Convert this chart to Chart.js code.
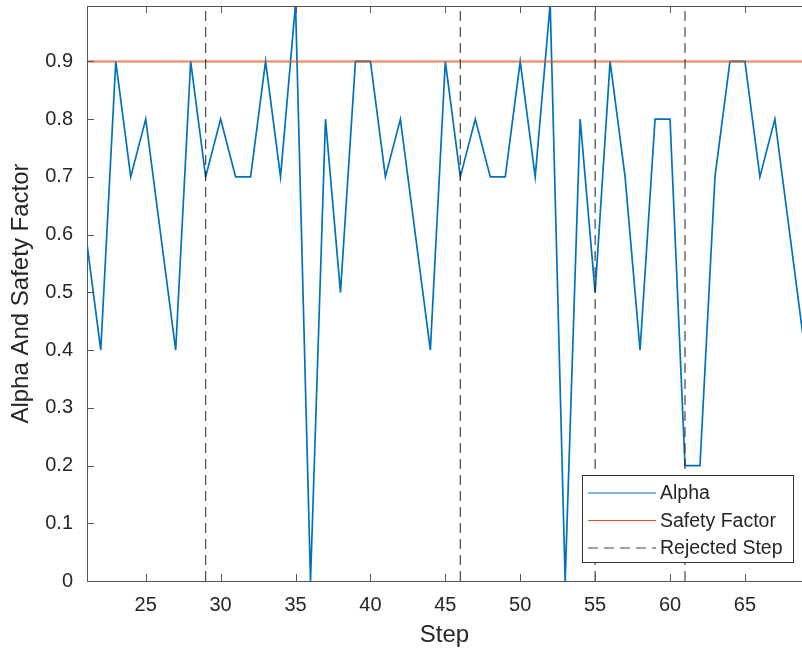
<!DOCTYPE html>
<html>
<head>
<meta charset="utf-8">
<script src="https://cdn.jsdelivr.net/npm/chart.js@4.4.0/dist/chart.umd.min.js"></script>
<style>
  html, body { margin: 0; padding: 0; background: #fff; }
  #wrap { width: 802px; height: 652px; }
</style>
</head>
<body>
<div id="wrap"><canvas id="alphaChart" width="802" height="652"></canvas></div>
<script>
// Step-size controller history
const steps = [21, 22, 23, 24, 25, 26, 27, 28, 29, 30,
               31, 32, 33, 34, 35, 36, 37, 38, 39, 40,
               41, 42, 43, 44, 45, 46, 47, 48, 49, 50,
               51, 52, 53, 54, 55, 56, 57, 58, 59, 60,
               61, 62, 63, 64, 65, 66, 67, 68, 69];
const alphaValues = [0.6, 0.4, 0.9, 0.7, 0.8, 0.6, 0.4, 0.9, 0.7, 0.8,
                     0.7, 0.7, 0.9, 0.7, 1.0, 0.0, 0.8, 0.5, 0.9, 0.9,
                     0.7, 0.8, 0.6, 0.4, 0.9, 0.7, 0.8, 0.7, 0.7, 0.9,
                     0.7, 1.0, 0.0, 0.8, 0.5, 0.9, 0.7, 0.4, 0.8, 0.8,
                     0.2, 0.2, 0.7, 0.9, 0.9, 0.7, 0.8, 0.6, 0.4];
const safetyFactor = steps.map(() => 0.9);
const rejectedSteps = [29, 46, 55, 61];

const xTicks = [25, 30, 35, 40, 45, 50, 55, 60, 65];
const yTicks = [0, 0.1, 0.2, 0.3, 0.4, 0.5, 0.6, 0.7, 0.8, 0.9];
const xRange = [21.08, 68.81];
const yRange = [0, 0.996];

const FONT = '"Liberation Sans", Arial, Helvetica, sans-serif';
const TEXT = '#262626';
const AXIS = '#555555';

// vertical dashed markers, broken apart with null gaps
const rejectedData = [];
rejectedSteps.forEach(s => {
    rejectedData.push({ x: s, y: 0 }, { x: s, y: 1 }, { x: s, y: null });
});

// MATLAB-style inward ticks plus the top box edge
const boxTicks = {
    id: 'boxTicks',
    afterDraw(chart) {
        const { ctx, chartArea: a, scales: { x, y } } = chart;
        ctx.save();
        ctx.strokeStyle = AXIS;
        ctx.lineWidth = 1;
        ctx.beginPath();
        ctx.moveTo(a.left, a.top + 0.5);
        ctx.lineTo(a.right, a.top + 0.5);
        xTicks.forEach(v => {
            const px = Math.round(x.getPixelForValue(v)) + 0.5;
            ctx.moveTo(px, a.bottom);
            ctx.lineTo(px, a.bottom - 7);
            ctx.moveTo(px, a.top);
            ctx.lineTo(px, a.top + 7);
        });
        yTicks.forEach(v => {
            const py = Math.round(y.getPixelForValue(v)) + 0.5;
            ctx.moveTo(a.left, py);
            ctx.lineTo(a.left + 7, py);
        });
        ctx.stroke();
        ctx.restore();
    }
};

// boxed legend in the lower right corner
const boxLegend = {
    id: 'boxLegend',
    afterDraw(chart) {
        const { ctx } = chart;
        const bx = 582, by = 475, bw = 211, bh = 87;
        ctx.save();
        ctx.fillStyle = '#ffffff';
        ctx.fillRect(bx, by, bw, bh);
        ctx.strokeStyle = '#333333';
        ctx.lineWidth = 1;
        ctx.strokeRect(bx + 0.5, by + 0.5, bw, bh);
        ctx.font = '19.5px ' + FONT;
        ctx.textBaseline = 'middle';
        ctx.fillStyle = TEXT;
        chart.data.datasets.forEach((ds, i) => {
            const cy = by + 18 + i * 27.5;
            ctx.strokeStyle = ds.legendColor || ds.borderColor;
            ctx.lineWidth = 1.2;
            ctx.setLineDash(ds.borderDash || []);
            ctx.beginPath();
            ctx.moveTo(bx + 6, cy);
            ctx.lineTo(bx + 74, cy);
            ctx.stroke();
            ctx.setLineDash([]);
            ctx.fillText(ds.label, bx + 78, cy + 1);
        });
        ctx.restore();
    }
};

const chart = new Chart(document.getElementById('alphaChart'), {
    type: 'line',
    data: {
        datasets: [
            {
                label: 'Alpha',
                data: steps.map((s, i) => ({ x: s, y: alphaValues[i] })),
                borderColor: '#0072BD',
                borderWidth: 1.7,
                pointRadius: 0,
                order: 2
            },
            {
                label: 'Safety Factor',
                data: steps.map((s, i) => ({ x: s, y: safetyFactor[i] })),
                borderColor: 'rgba(217, 83, 25, 0.6)',
                legendColor: '#D95319',
                borderWidth: 2.5,
                pointRadius: 0,
                order: 1
            },
            {
                label: 'Rejected Step',
                data: rejectedData,
                borderColor: 'rgba(38, 38, 38, 0.85)',
                borderWidth: 1.2,
                borderDash: [10, 6],
                pointRadius: 0,
                spanGaps: false,
                order: 0
            }
        ]
    },
    options: {
        responsive: false,
        animation: false,
        events: [],
        layout: { padding: { top: 6, right: 0, bottom: 0, left: 0 } },
        plugins: {
            legend: { display: false },
            tooltip: { enabled: false }
        },
        scales: {
            x: {
                type: 'linear',
                min: xRange[0],
                max: xRange[1],
                afterBuildTicks: s => { s.ticks = xTicks.map(v => ({ value: v })); },
                afterFit: s => { s.height = 71; s.paddingLeft = 0; s.paddingRight = 0; },
                grid: { display: false, drawTicks: false },
                border: { color: AXIS, width: 1 },
                ticks: { padding: 12, color: TEXT, font: { family: FONT, size: 20 }, maxRotation: 0 },
                title: { display: true, text: 'Step', color: TEXT, font: { family: FONT, size: 24 }, padding: { top: 0, bottom: 2 } }
            },
            y: {
                type: 'linear',
                min: yRange[0],
                max: yRange[1],
                afterBuildTicks: s => { s.ticks = yTicks.map(v => ({ value: v })); },
                afterFit: s => { s.width = 87; s.paddingTop = 0; s.paddingBottom = 0; },
                grid: { display: false, drawTicks: false },
                border: { color: AXIS, width: 1 },
                ticks: {
                    padding: 14, color: TEXT, font: { family: FONT, size: 20 },
                    callback: v => v === 0 ? '0' : v.toFixed(1)
                },
                title: { display: true, text: 'Alpha And Safety Factor', color: TEXT, font: { family: FONT, size: 24 }, padding: { top: 7, bottom: 0 } }
            }
        }
    },
    plugins: [boxTicks, boxLegend]
});
</script>
</body>
</html>
